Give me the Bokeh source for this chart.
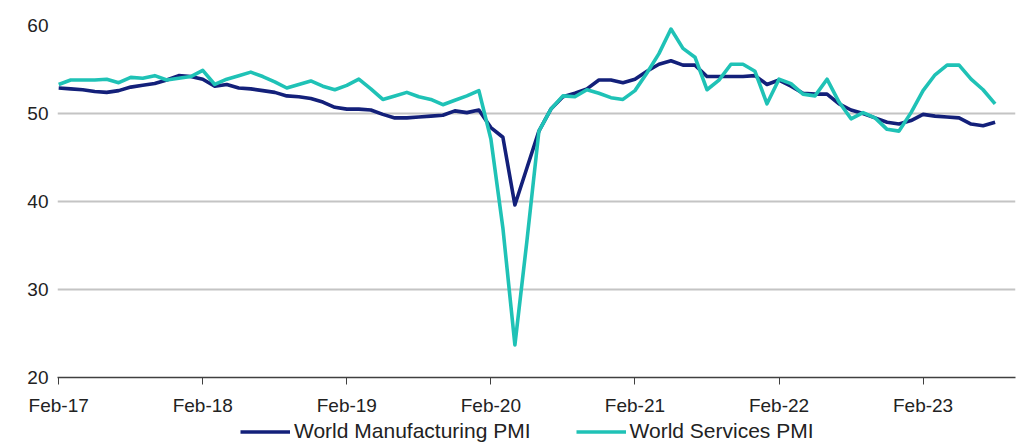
from bokeh.plotting import figure
from bokeh.models import FixedTicker, Range1d, Legend, LegendItem
from bokeh.layouts import column
from bokeh.embed import file_html
from bokeh.resources import INLINE

# Months since Feb-2017 (Feb-17 ... Aug-23)
months = list(range(79))
tick_months = [0, 12, 24, 36, 48, 60, 72]
tick_labels = ["Feb-17", "Feb-18", "Feb-19", "Feb-20", "Feb-21", "Feb-22", "Feb-23"]
y_ticks = [20, 30, 40, 50, 60]

manufacturing = [
    52.9, 52.8, 52.7, 52.5, 52.4, 52.6, 53.0, 53.2, 53.4, 53.8, 54.3, 54.2,   # Feb-17 .. Jan-18
    53.9, 53.1, 53.3, 52.9, 52.8, 52.6, 52.4, 52.0, 51.9, 51.7, 51.3, 50.7,   # Feb-18 .. Jan-19
    50.5, 50.5, 50.4, 49.9, 49.5, 49.5, 49.6, 49.7, 49.8, 50.3, 50.1, 50.4,   # Feb-19 .. Jan-20
    48.4, 47.3, 39.6, 43.8, 48.0, 50.5, 51.9, 52.3, 52.8, 53.8, 53.8, 53.5,   # Feb-20 .. Jan-21
    53.9, 54.8, 55.6, 56.0, 55.5, 55.5, 54.2, 54.2, 54.2, 54.2, 54.3, 53.3,   # Feb-21 .. Jan-22
    53.8, 53.1, 52.3, 52.2, 52.2, 51.1, 50.4, 50.0, 49.5, 49.0, 48.8, 49.2,   # Feb-22 .. Jan-23
    49.9, 49.7, 49.6, 49.5, 48.8, 48.6, 49.0,                                 # Feb-23 .. Aug-23
]
services = [
    53.3, 53.8, 53.8, 53.8, 53.9, 53.5, 54.1, 54.0, 54.3, 53.8, 54.0, 54.2,
    54.9, 53.3, 53.9, 54.3, 54.7, 54.2, 53.6, 52.9, 53.3, 53.7, 53.1, 52.7,
    53.2, 53.9, 52.8, 51.6, 52.0, 52.4, 51.9, 51.6, 51.0, 51.5, 52.0, 52.6,
    47.1, 37.0, 23.7, 35.5, 48.0, 50.5, 52.0, 51.9, 52.7, 52.3, 51.8, 51.6,
    52.6, 54.6, 56.8, 59.6, 57.4, 56.4, 52.7, 53.8, 55.6, 55.6, 54.8, 51.1,
    53.9, 53.4, 52.2, 52.0, 53.9, 51.3, 49.4, 50.1, 49.5, 48.2, 48.0, 50.1,
    52.6, 54.4, 55.5, 55.5, 53.9, 52.7, 51.1,
]
series_names = ["World Manufacturing PMI", "World Services PMI"]

MANU_COLOR = "#13207A"
SERV_COLOR = "#1FC2B6"
FONT = "Liberation Sans"
TEXT_COLOR = "#222222"
LW = 3.6

p = figure(width=1023, height=422, output_backend="svg", toolbar_location=None,
           x_range=Range1d(-0.1, 79.7), y_range=Range1d(20, 60),
           min_border_left=57, min_border_right=8, min_border_top=25,
           min_border_bottom=45)
p.outline_line_color = None
p.background_fill_color = "white"
p.border_fill_color = "white"

p.line(months, manufacturing, line_color=MANU_COLOR, line_width=LW, line_join="round")
p.line(months, services, line_color=SERV_COLOR, line_width=LW, line_join="round")

xa = p.xaxis[0]
xa.axis_label = None
xa.ticker = FixedTicker(ticks=tick_months)
xa.major_label_overrides = {m: l for m, l in zip(tick_months, tick_labels)}
xa.axis_line_color = "#404040"
xa.axis_line_width = 1.3
xa.major_tick_line_color = "#404040"
xa.major_tick_out = 7
xa.major_tick_in = 0
xa.minor_tick_line_color = None
xa.major_label_standoff = 10
xa.major_label_text_font = FONT
xa.major_label_text_font_size = "19px"
xa.major_label_text_color = TEXT_COLOR

ya = p.yaxis[0]
ya.axis_label = None
ya.ticker = FixedTicker(ticks=y_ticks)
ya.axis_line_color = None
ya.major_tick_line_color = None
ya.minor_tick_line_color = None
ya.major_label_standoff = 3
ya.major_label_text_font = FONT
ya.major_label_text_font_size = "19px"
ya.major_label_text_color = TEXT_COLOR

p.xgrid.grid_line_color = None
p.ygrid.ticker = FixedTicker(ticks=y_ticks)
p.ygrid.grid_line_color = "#C4C4C4"
p.ygrid.grid_line_width = 2

# Legend strip below the chart (its frame is aligned with the chart frame)
lg = figure(width=1023, height=21, output_backend="svg", toolbar_location=None,
            x_range=Range1d(0, 1), y_range=Range1d(0, 1), min_border=0)
lg.outline_line_color = None
lg.xaxis.visible = False
lg.yaxis.visible = False
lg.xgrid.grid_line_color = None
lg.ygrid.grid_line_color = None
# proxy renderers kept outside the visible range, used only for the legend swatches
lm = lg.line([-10, -9], [-10, -9], line_color=MANU_COLOR, line_width=LW)
ls = lg.line([-10, -9], [-10, -9], line_color=SERV_COLOR, line_width=LW)

legend = Legend(items=[LegendItem(label=series_names[0], renderers=[lm]),
                       LegendItem(label=series_names[1], renderers=[ls])],
                location=(183, 0), orientation="horizontal",
                padding=0, margin=0, spacing=45,
                glyph_width=50, glyph_height=21, label_height=21,
                label_standoff=4,
                label_text_font=FONT, label_text_font_size="21px",
                label_text_color=TEXT_COLOR,
                border_line_color=None, background_fill_alpha=0)
lg.add_layout(legend)

layout = column(p, lg, spacing=0)
open("out.html", "w").write(file_html(layout, INLINE))
